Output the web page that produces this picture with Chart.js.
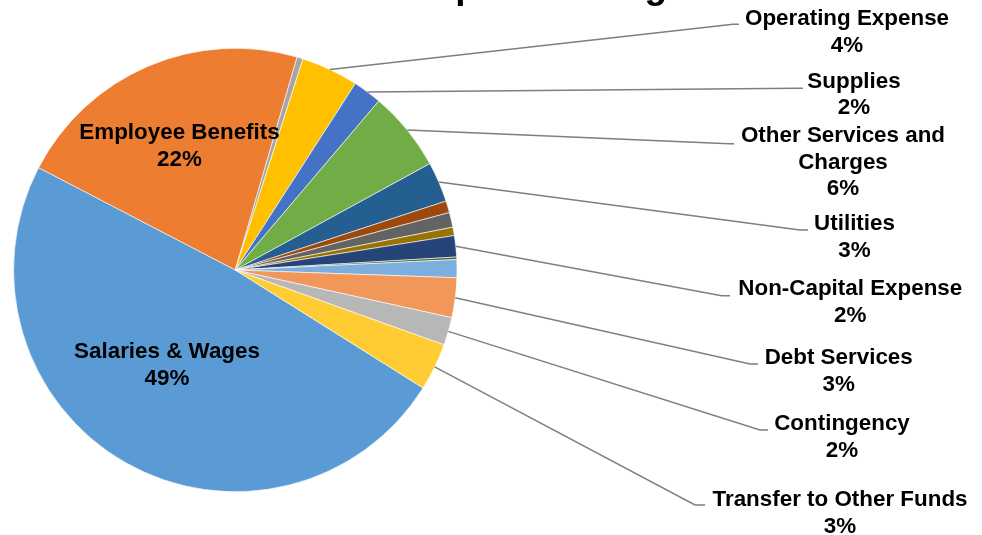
<!DOCTYPE html>
<html>
<head>
<meta charset="utf-8">
<script src="https://cdn.jsdelivr.net/npm/chart.js@4/dist/chart.umd.min.js"></script>
<style>
  html, body { margin: 0; padding: 0; background: #ffffff; }
  #wrap { width: 982px; height: 535px; position: relative; overflow: hidden; }
  canvas { display: block; }
</style>
</head>
<body>
<div id="wrap"><canvas id="budget" width="982" height="535"></canvas></div>
<script>
// Budget categories, in drawing order (clockwise from the first slice)
const categories = [
  'Salaries & Wages',
  'Employee Benefits',
  'Other Expense 1',
  'Operating Expense',
  'Supplies',
  'Other Services and Charges',
  'Utilities',
  'Other Expense 2',
  'Other Expense 3',
  'Other Expense 4',
  'Non-Capital Expense',
  'Other Expense 5',
  'Other Expense 6',
  'Debt Services',
  'Contingency',
  'Transfer to Other Funds'
];

// Share of the total budget, percent
const shares = [
  48.71, 21.86, 0.44, 4.17, 2.10, 5.83, 2.93, 0.86,
  1.08, 0.61, 1.55, 0.18, 1.31, 2.89, 2.03, 3.45
];

// Slice fills
const sliceColors = [
  '#5B9BD5', '#ED7D31', '#A5A5A5', '#FFC000', '#4472C4', '#70AD47',
  '#255E91', '#9E480E', '#636363', '#997300', '#264478', '#43682B',
  '#7CAFDD', '#F1975A', '#B7B7B7', '#FFCD33'
];

// Chart title
const titleText = 'Expense Budget';

// Label placement: text anchor (centre x, first baseline y) and leader-line elbow
const LABEL_FONT = 'bold 22.4px "Liberation Sans", Arial, sans-serif';
const TITLE_FONT = 'bold 37px "Liberation Sans", Arial, sans-serif';
const LINE_H = 26.5;
const outsideLabels = {
  'Operating Expense':          { lines: ['Operating Expense'], x: 847, y: 25, ex: 733, ey: 24.3, hx: 739 },
  'Supplies':                   { lines: ['Supplies'], x: 854, y: 87.7, ex: 797, ey: 88.3, hx: 803 },
  'Other Services and Charges': { lines: ['Other Services and', 'Charges'], x: 843, y: 142.3, ex: 729, ey: 143.8, hx: 734 },
  'Utilities':                  { lines: ['Utilities'], x: 854.5, y: 230, ex: 800, ey: 230, hx: 808 },
  'Non-Capital Expense':        { lines: ['Non-Capital Expense'], x: 850.3, y: 295, ex: 721.7, ey: 295.7, hx: 730 },
  'Debt Services':              { lines: ['Debt Services'], x: 838.7, y: 364, ex: 750, ey: 364, hx: 758 },
  'Contingency':                { lines: ['Contingency'], x: 842, y: 430, ex: 760, ey: 430, hx: 768 },
  'Transfer to Other Funds':    { lines: ['Transfer to Other Funds'], x: 840, y: 506, ex: 695, ey: 505, hx: 705 }
};
const insideLabels = {
  'Salaries & Wages':  { lines: ['Salaries & Wages'], x: 167, y: 358.3 },
  'Employee Benefits': { lines: ['Employee Benefits'], x: 179.5, y: 139.3 }
};

const total = shares.reduce((a, b) => a + b, 0);
const pctText = v => Math.round(v / total * 100) + '%';

// Draws the title, the data labels and their leader lines
const labelPlugin = {
  id: 'sliceLabels',
  afterDatasetsDraw(chart) {
    const ctx = chart.ctx;
    const meta = chart.getDatasetMeta(0);
    ctx.save();

    // Title sits mostly above the top edge
    ctx.font = TITLE_FONT;
    ctx.fillStyle = '#000000';
    ctx.textAlign = 'left';
    ctx.textBaseline = 'alphabetic';
    ctx.fillText(titleText, 410, -1.8);

    ctx.font = LABEL_FONT;
    ctx.textAlign = 'center';

    meta.data.forEach((arc, i) => {
      const name = categories[i];
      const p = arc.getProps(['x', 'y', 'startAngle', 'endAngle', 'outerRadius'], true);
      const mid = (p.startAngle + p.endAngle) / 2;

      const out = outsideLabels[name];
      if (out) {
        const sx = p.x + Math.cos(mid) * p.outerRadius;
        const sy = p.y + Math.sin(mid) * p.outerRadius;
        ctx.beginPath();
        ctx.strokeStyle = '#7f7f7f';
        ctx.lineWidth = 1.5;
        ctx.moveTo(sx, sy);
        ctx.lineTo(out.ex, out.ey);
        ctx.lineTo(out.hx, out.ey);
        ctx.stroke();
        const lines = out.lines.concat([pctText(shares[i])]);
        lines.forEach((t, k) => ctx.fillText(t, out.x, out.y + k * LINE_H));
      }

      const inn = insideLabels[name];
      if (inn) {
        const lines = inn.lines.concat([pctText(shares[i])]);
        lines.forEach((t, k) => ctx.fillText(t, inn.x, inn.y + k * LINE_H));
      }
    });
    ctx.restore();
  }
};

function drawChart() {
  new Chart(document.getElementById('budget').getContext('2d'), {
    type: 'pie',
    data: {
      labels: categories,
      datasets: [{
        data: shares,
        backgroundColor: sliceColors,
        borderColor: '#ffffff',
        borderWidth: 0.6,
        radius: 221.7
      }]
    },
    options: {
      responsive: false,
      animation: false,
      rotation: 122.14,
      layout: { padding: { left: 13.6, top: 48.3, right: 525, bottom: 43.3 } },
      plugins: {
        legend: { display: false },
        tooltip: { enabled: false },
        title: { display: false }
      }
    },
    plugins: [labelPlugin]
  });
}

Promise.all([document.fonts.load(LABEL_FONT), document.fonts.load(TITLE_FONT)])
  .then(drawChart, drawChart);
</script>
</body>
</html>
